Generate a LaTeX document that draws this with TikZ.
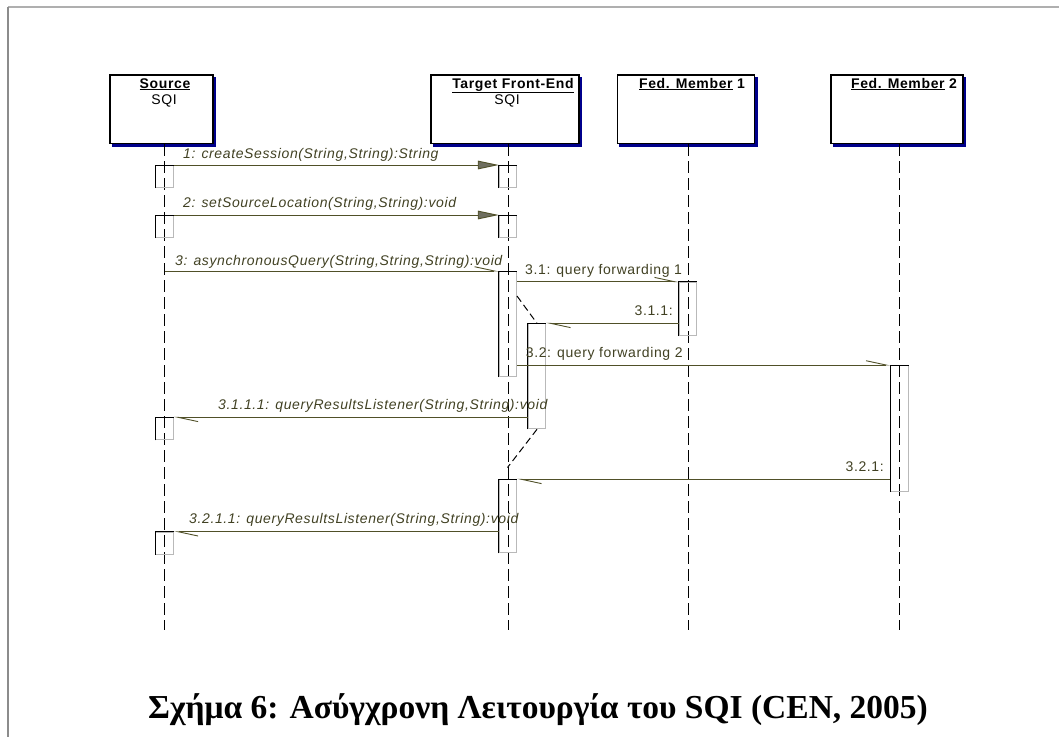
\documentclass[tikz,border=0pt]{standalone}
\usepackage{fontspec}
\setmainfont{Liberation Sans}
\newfontfamily\lblfont[LetterSpace=4.5]{Liberation Sans}
\newfontfamily\captionfont{Liberation Serif}
\usetikzlibrary{arrows.meta,shadows}

\definecolor{msgline}{RGB}{80,80,40}
\definecolor{msgtext}{RGB}{65,65,35}
\definecolor{headfill}{RGB}{110,110,95}
\definecolor{shadowblue}{RGB}{0,0,140}
\definecolor{frametop}{RGB}{175,175,175}
\definecolor{frameleft}{RGB}{140,140,140}

\tikzset{
  pbox/.style={draw=black, line width=1.2pt, fill=white, inner sep=0pt,
    copy shadow={shadow xshift=2.5pt, shadow yshift=-2.5pt, fill=shadowblue, draw=shadowblue}},
  ptitle/.style={inner sep=0pt, anchor=base, font=\lblfont\bfseries\fontsize{14}{16}\selectfont},
  ptext/.style={inner sep=0pt, anchor=base, font=\lblfont\fontsize{14}{16}\selectfont},
  lifeline/.style={draw=black, line width=0.9pt, dash pattern=on 12pt off 5pt},
  actbox/.style={draw=gray!55, line width=1pt, minimum width=17.5pt, inner sep=0pt, anchor=north},
  sync/.style={draw=msgline, line width=0.9pt, -{Triangle[length=21pt,width=8.6pt,fill=headfill]}},
  async/.style={draw=msgline, line width=0.9pt, -{Straight Barb[harpoon,length=20pt,width=8.6pt]}},
  msglbl/.style={inner sep=0pt, text=msgtext, font=\lblfont\fontsize{14}{16}\selectfont},
  msgital/.style={msglbl, font=\lblfont\itshape\fontsize{14}{16}\selectfont},
  threadline/.style={draw=black, line width=1pt, dash pattern=on 7pt off 4pt},
}

\begin{document}
\begin{tikzpicture}[x=1pt,y=-1pt]
\useasboundingbox (0,0) rectangle (1059,737);

% page frame
\coordinate (ftr) at (1059,7);
\coordinate (ftl) at (8,7);
\coordinate (fbl) at (8,737);
\draw[frametop, line width=1.7pt] (ftl) -- (ftr);
\draw[frameleft, line width=1.7pt] (ftl) -- (fbl);

% participants
\node[pbox, minimum width=103pt, minimum height=68.5pt] (src) at (161.5,109.25) {};
\node[pbox, minimum width=148pt, minimum height=68.5pt] (tfe) at (505,109.25) {};
\node[pbox, minimum width=137pt, minimum height=68.5pt] (fm1) at (686,109.25) {};
\node[pbox, minimum width=132pt, minimum height=68.5pt] (fm2) at (897,109.25) {};

\node[ptitle] (srcname) at (165,88) {\underline{Source}};
\node[ptext]  (srcsqi)  at (164,104) {SQI};
\node[ptitle] (tfename) at (513,88) {\underline{Target Front-End}};
\node[ptext]  (tfesqi)  at (507,104) {SQI};
\node[ptitle] (fm1name) at (692,88) {\underline{Fed. Member} 1};
\node[ptitle] (fm2name) at (904,88) {\underline{Fed. Member} 2};

% lifelines
\coordinate (srcend) at (164.5,630);
\coordinate (tfeend) at (508,630);
\coordinate (fm1end) at (688,630);
\coordinate (fm2end) at (899.5,630);
\draw[lifeline] (srcend |- src.south) -- (srcend);
\draw[lifeline] (tfeend |- tfe.south) -- (tfeend);
\draw[lifeline] (fm1end |- fm1.south) -- (fm1end);
\draw[lifeline] (fm2end |- fm2.south) -- (fm2end);

% activation boxes
\node[actbox, minimum height=22pt]  (s1) at (164.6,165) {};
\node[actbox, minimum height=22pt]  (s2) at (164.6,215) {};
\node[actbox, minimum height=22pt]  (s3) at (164.6,417.3) {};
\node[actbox, minimum height=22pt]  (s4) at (164.6,531.7) {};
\node[actbox, minimum height=22pt]  (t1) at (508,165) {};
\node[actbox, minimum height=22pt]  (t2) at (508,215) {};
\node[actbox, minimum height=105pt] (t3) at (508,271) {};
\node[actbox, minimum height=105pt] (t4) at (537,323.3) {};
\node[actbox, minimum height=73pt]  (t5) at (508,479.3) {};
\node[actbox, minimum height=53.3pt] (f1) at (688,281.7) {};
\node[actbox, minimum height=126pt] (f2) at (899.5,365) {};
\foreach \b in {s1,s2,s3,s4,t1,t2,t3,t4,t5,f1,f2}
  \draw[black, line width=1pt] (\b.south west) -- (\b.north west) -- (\b.north east);

% thread continuation lines
\coordinate (d1a) at (517,296);
\coordinate (d2b) at (507.5,467.5);
\draw[threadline] (d1a) -- (t4.north);
\draw[threadline] (t4.south) -- (d2b);

% messages
\coordinate (m3start) at (164.5,271);
\draw[sync]  (s1.north east) -- (t1.north west);
\draw[sync]  (s2.north east) -- (t2.north west);
\draw[async] (m3start) -- (t3.north west);
\draw[async] (t3.east |- f1.north) -- (f1.north west);
\draw[async] (f1.west |- t4.north) -- (t4.north east);
\draw[async] (t3.east |- f2.north) -- (f2.north west);
\draw[async] (t4.west |- s3.north) -- (s3.north east);
\draw[async] (f2.west |- t5.north) -- (t5.north east);
\draw[async] (t5.west |- s4.north) -- (s4.north east);

% message labels
\node[msgital, anchor=base west] (l1) at (183,158.5) {1: createSession(String,String):String};
\node[msgital, anchor=base west] (l2) at (183,207.5) {2: setSourceLocation(String,String):void};
\node[msgital, anchor=base west] (l3) at (175,265) {3: asynchronousQuery(String,String,String):void};
\node[msglbl, anchor=base west] (l31) at (525,274) {3.1: query forwarding 1};
\node[msglbl, anchor=base east] (l311) at (673,315.7) {3.1.1:};
\node[msglbl, anchor=base west] (l32) at (525.7,357.5) {3.2: query forwarding 2};
\node[msgital, anchor=base west] (l3111) at (218,409.3) {3.1.1.1: queryResultsListener(String,String):void};
\node[msglbl, anchor=base east] (l321) at (884,471.5) {3.2.1:};
\node[msgital, anchor=base west] (l3211) at (189,523.3) {3.2.1.1: queryResultsListener(String,String):void};

% caption
\node[inner sep=0pt, anchor=base, font=\captionfont\bfseries\fontsize{33.5}{38}\selectfont] (caption) at (538,718)
  {Σχήμα 6: Ασύγχρονη Λειτουργία του SQI (CEN, 2005)};
\end{tikzpicture}
\end{document}
